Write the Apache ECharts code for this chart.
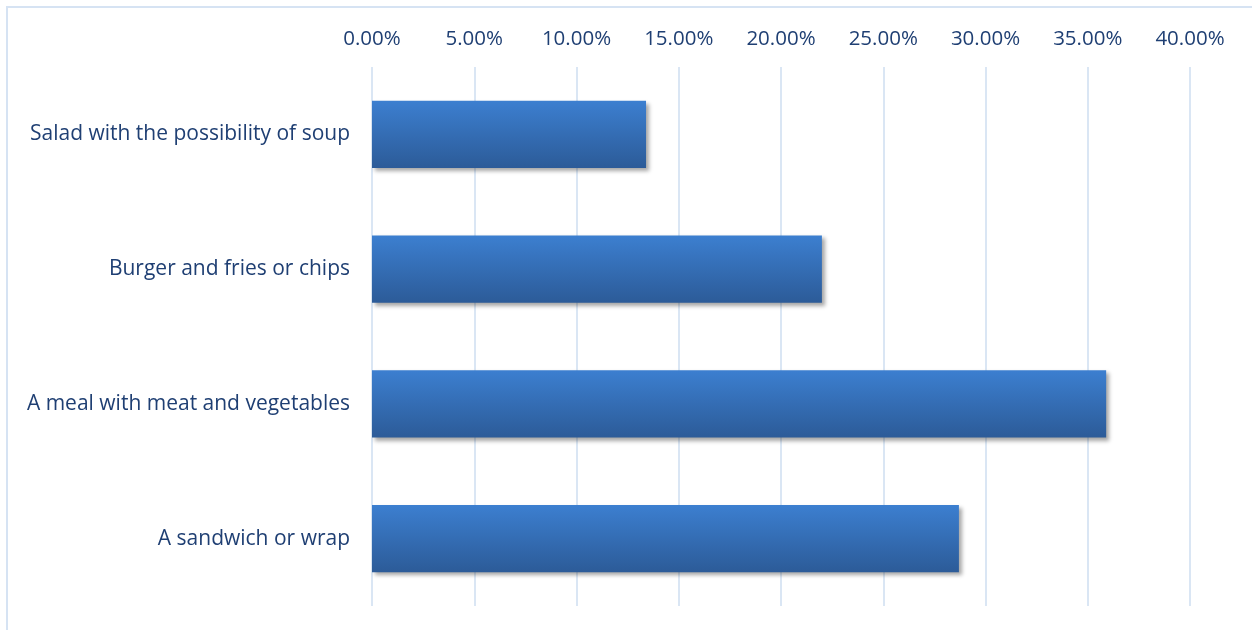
<!DOCTYPE html>
<html>
<head>
<meta charset="utf-8">
<script src="https://cdn.jsdelivr.net/npm/echarts@6/dist/echarts.min.js"></script>
<style>
  html, body { margin: 0; padding: 0; background: #fff; }
  #frame { position: absolute; left: 6px; top: 6px; width: 1260px; height: 640px; border-left: 2px solid #d6e3f3; border-top: 2px solid #d6e3f3; box-sizing: border-box; }
  #chart { position: absolute; left: 0; top: 0; width: 1252px; height: 630px; }
</style>
</head>
<body>
<div id="frame"></div>
<div id="chart"></div>
<script>
// Lunch preferences, share of respondents
const categories = [
  'Salad with the possibility of soup',
  'Burger and fries or chips',
  'A meal with meat and vegetables',
  'A sandwich or wrap'
];
const shares = [13.4, 22.0, 35.9, 28.7];

const textColor = '#1f3f73';
const fontFamily = '"Open Sans", "Noto Sans", sans-serif';

const chart = echarts.init(document.getElementById('chart'), null, { renderer: 'canvas' });
chart.setOption({
  animation: false,
  grid: { left: 372, right: 62, top: 67, bottom: 24, containLabel: false },
  xAxis: {
    type: 'value',
    position: 'top',
    min: 0,
    max: 40,
    interval: 5,
    axisLine: { show: false },
    axisTick: { show: false },
    axisLabel: {
      color: textColor,
      fontFamily: fontFamily,
      fontSize: 20.5,
      margin: 17,
      formatter: v => v.toFixed(2) + '%'
    },
    splitLine: { lineStyle: { color: '#dae6f4', width: 2 } }
  },
  yAxis: {
    type: 'category',
    data: categories,
    inverse: true,
    axisLine: { show: false },
    axisTick: { show: false },
    axisLabel: {
      color: textColor,
      fontFamily: fontFamily,
      fontSize: 21,
      margin: 22
    }
  },
  series: [{
    type: 'bar',
    data: shares,
    barWidth: '50%',
    itemStyle: {
      color: new echarts.graphic.LinearGradient(0, 0, 0, 1, [
        { offset: 0, color: '#3c7fd0' },
        { offset: 1, color: '#2c5b98' }
      ]),
      shadowColor: 'rgba(0,0,0,0.35)',
      shadowBlur: 4,
      shadowOffsetX: 3,
      shadowOffsetY: 3
    }
  }]
});
</script>
</body>
</html>
